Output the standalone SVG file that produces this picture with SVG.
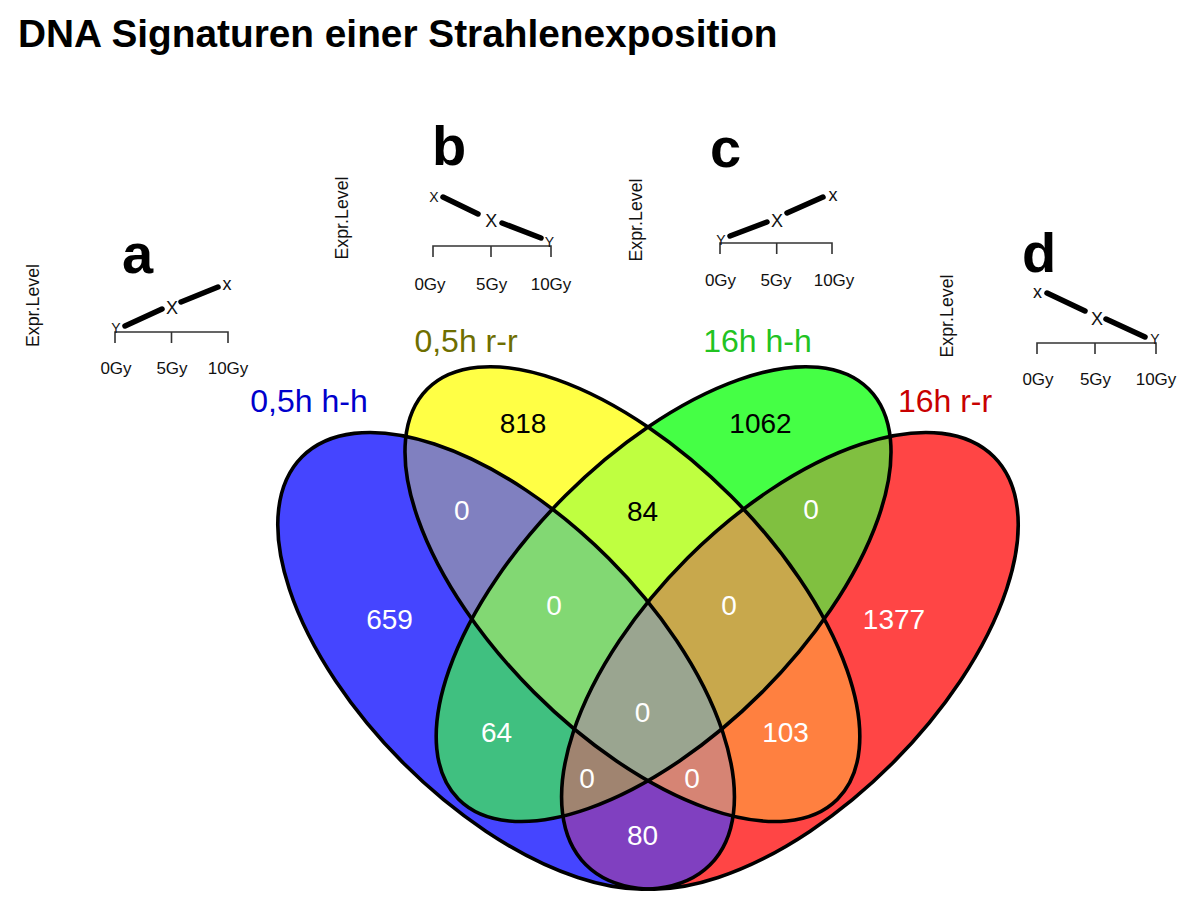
<svg xmlns="http://www.w3.org/2000/svg" width="1200" height="903" viewBox="0 0 1200 903">
<style>
.f{font-family:"Liberation Sans",Arial,sans-serif}
.title{font-weight:bold;font-size:38.8px;fill:#000}
.panel{font-weight:bold;font-size:56px;fill:#000;text-anchor:middle}
.ax{font-size:17px;fill:#111;text-anchor:middle}
.ylab{font-size:17.8px;fill:#111;text-anchor:middle}
.pt{fill:#111;text-anchor:middle}
.p18{font-size:18px}.p14{font-size:14px}
.seg{stroke:#000;stroke-width:5.5;stroke-linecap:round}
.axis{stroke:#333;stroke-width:1.6;fill:none}
.num{font-size:28px;text-anchor:middle}
.w{fill:#fff}.k{fill:#000}
.cat{font-size:32px;text-anchor:middle}
.outline{fill:none;stroke:#000;stroke-width:3.6}
</style>
<defs>
<ellipse id="eB" cx="506.1" cy="660.8" rx="288.5" ry="145" transform="rotate(45 506.1 660.8)"/>
<ellipse id="eY" cx="632.4" cy="594.1" rx="290" ry="139" transform="rotate(45 632.4 594.1)"/>
<ellipse id="eG" cx="663.6" cy="594.1" rx="290" ry="139" transform="rotate(-45 663.6 594.1)"/>
<ellipse id="eR" cx="789.9" cy="660.8" rx="288.5" ry="145" transform="rotate(-45 789.9 660.8)"/>
<clipPath id="cB"><ellipse cx="506.1" cy="660.8" rx="288.5" ry="145" transform="rotate(45 506.1 660.8)"/></clipPath>
<clipPath id="cY"><ellipse cx="632.4" cy="594.1" rx="290" ry="139" transform="rotate(45 632.4 594.1)"/></clipPath>
<clipPath id="cG"><ellipse cx="663.6" cy="594.1" rx="290" ry="139" transform="rotate(-45 663.6 594.1)"/></clipPath>
<clipPath id="cR"><ellipse cx="789.9" cy="660.8" rx="288.5" ry="145" transform="rotate(-45 789.9 660.8)"/></clipPath>
</defs>
<rect width="1200" height="903" fill="#fff"/>
<text class="f title" x="18" y="47">DNA Signaturen einer Strahlenexposition</text>

<g id="plot-a">
<text class="f panel" x="137.5" y="273">a</text>
<text class="f ylab" transform="translate(39,305.5) rotate(-90)">Expr.Level</text>
<path class="axis" d="M115,343V332H228V343M171.5,332V343"/>
<line class="seg" x1="125" y1="326" x2="162" y2="309"/>
<line class="seg" x1="181" y1="302" x2="218" y2="287"/>
<text class="f pt p14" x="116" y="333">Y</text>
<text class="f pt p18" x="172" y="313.5">X</text>
<text class="f pt p18" x="227" y="289.7">x</text>
<text class="f ax" x="116" y="374">0Gy</text>
<text class="f ax" x="172" y="374">5Gy</text>
<text class="f ax" x="228" y="374">10Gy</text>
</g>

<g id="plot-b">
<text class="f panel" x="449" y="165">b</text>
<text class="f ylab" transform="translate(348,218) rotate(-90)">Expr.Level</text>
<path class="axis" d="M433,257V246H551V257M491,246V257"/>
<line class="seg" x1="443" y1="197" x2="478" y2="214"/>
<line class="seg" x1="502" y1="223" x2="541" y2="238"/>
<text class="f pt p14" x="434" y="202">X</text>
<text class="f pt p18" x="491.3" y="226.5">X</text>
<text class="f pt p14" x="549.5" y="247">Y</text>
<text class="f ax" x="430" y="290">0Gy</text>
<text class="f ax" x="491.7" y="290">5Gy</text>
<text class="f ax" x="551" y="290">10Gy</text>
</g>

<g id="plot-c">
<text class="f panel" x="725.5" y="167">c</text>
<text class="f ylab" transform="translate(642,220) rotate(-90)">Expr.Level</text>
<path class="axis" d="M720,254V243H832V254M776.7,243V254"/>
<line class="seg" x1="730" y1="236" x2="767" y2="222"/>
<line class="seg" x1="787" y1="213" x2="823" y2="197"/>
<text class="f pt p14" x="721" y="245">Y</text>
<text class="f pt p18" x="777" y="226.5">X</text>
<text class="f pt p18" x="833" y="200.7">x</text>
<text class="f ax" x="720.5" y="286">0Gy</text>
<text class="f ax" x="776" y="286">5Gy</text>
<text class="f ax" x="834" y="286">10Gy</text>
</g>

<g id="plot-d">
<text class="f panel" x="1039" y="272">d</text>
<text class="f ylab" transform="translate(953,316) rotate(-90)">Expr.Level</text>
<path class="axis" d="M1037,354V343H1156V354M1095,343V354"/>
<line class="seg" x1="1047" y1="293" x2="1085" y2="311"/>
<line class="seg" x1="1106" y1="319" x2="1145" y2="337"/>
<text class="f pt p18" x="1037.5" y="297.7">x</text>
<text class="f pt p18" x="1097" y="324.5">X</text>
<text class="f pt p14" x="1155" y="344">Y</text>
<text class="f ax" x="1038" y="385">0Gy</text>
<text class="f ax" x="1095.5" y="385">5Gy</text>
<text class="f ax" x="1156" y="385">10Gy</text>
</g>

<g id="venn-fills">
<use href="#eB" fill="#4545FF"/>
<use href="#eY" fill="#FFFF45"/>
<use href="#eG" fill="#45FF45"/>
<use href="#eR" fill="#FF4545"/>
<g clip-path="url(#cB)"><use href="#eY" fill="#8080C0"/></g>
<g clip-path="url(#cB)"><use href="#eG" fill="#40C080"/></g>
<g clip-path="url(#cB)"><use href="#eR" fill="#8040C0"/></g>
<g clip-path="url(#cY)"><use href="#eG" fill="#BFFF40"/></g>
<g clip-path="url(#cY)"><use href="#eR" fill="#FF8040"/></g>
<g clip-path="url(#cG)"><use href="#eR" fill="#80C040"/></g>
<g clip-path="url(#cB)"><g clip-path="url(#cY)"><use href="#eG" fill="#82D873"/></g></g>
<g clip-path="url(#cB)"><g clip-path="url(#cY)"><use href="#eR" fill="#D68474"/></g></g>
<g clip-path="url(#cB)"><g clip-path="url(#cG)"><use href="#eR" fill="#A08470"/></g></g>
<g clip-path="url(#cY)"><g clip-path="url(#cG)"><use href="#eR" fill="#C8A84C"/></g></g>
<g clip-path="url(#cB)"><g clip-path="url(#cY)"><g clip-path="url(#cG)"><use href="#eR" fill="#9AA590"/></g></g></g>
</g>

<g id="set-0-5h-h-h">
<use href="#eB" class="outline"/>
<text class="f cat" x="309" y="412" fill="#0000CC">0,5h h-h</text>
</g>
<g id="set-0-5h-r-r">
<use href="#eY" class="outline"/>
<text class="f cat" x="466" y="352" fill="#6E6E00">0,5h r-r</text>
</g>
<g id="set-16h-h-h">
<use href="#eG" class="outline"/>
<text class="f cat" x="757.5" y="352" fill="#22C322">16h h-h</text>
</g>
<g id="set-16h-r-r">
<use href="#eR" class="outline"/>
<text class="f cat" x="945" y="412" fill="#C80000">16h r-r</text>
</g>

<g id="counts">
<text class="f num k" x="523" y="432.5">818</text>
<text class="f num k" x="760.5" y="433">1062</text>
<text class="f num k" x="642.5" y="520.5">84</text>
<text class="f num w" x="461.7" y="520">0</text>
<text class="f num w" x="811" y="519">0</text>
<text class="f num w" x="389.5" y="629">659</text>
<text class="f num w" x="894" y="629">1377</text>
<text class="f num w" x="554" y="615">0</text>
<text class="f num w" x="729" y="615">0</text>
<text class="f num w" x="642.5" y="721.7">0</text>
<text class="f num w" x="496.5" y="742">64</text>
<text class="f num w" x="785.5" y="742">103</text>
<text class="f num w" x="587" y="788">0</text>
<text class="f num w" x="692" y="788">0</text>
<text class="f num w" x="642.5" y="845">80</text>
</g>
</svg>
